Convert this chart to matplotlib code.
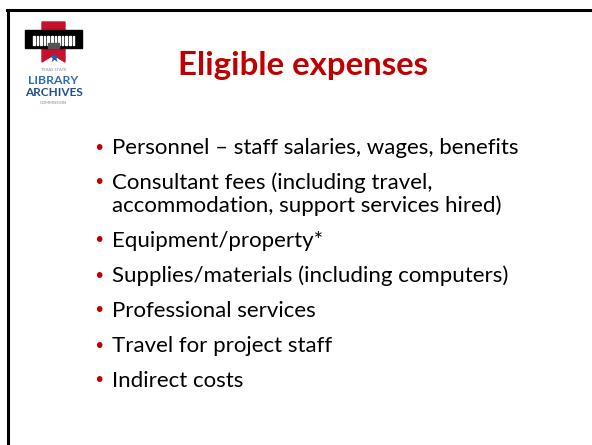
import matplotlib
matplotlib.use("Agg")
import matplotlib.pyplot as plt
from matplotlib.patches import Rectangle, Polygon
from matplotlib.lines import Line2D

title = "Eligible expenses"
bullets = [
    ["Personnel \u2013 staff salaries, wages, benefits"],
    ["Consultant fees (including travel,", "accommodation, support services hired)"],
    ["Equipment/property*"],
    ["Supplies/materials (including computers)"],
    ["Professional services"],
    ["Travel for project staff"],
    ["Indirect costs"],
]

W, H = 592, 445
fig = plt.figure(figsize=(W / 100, H / 100), dpi=100)
ax = fig.add_axes([0, 0, 1, 1])
ax.set_xlim(0, W)
ax.set_ylim(H, 0)
ax.axis("off")

FONT = ["Lato", "DejaVu Sans"]
RED = "#C00000"

# slide frame (top and left)
ax.add_line(Line2D([7, W], [10, 10], color="black", lw=2.2))
ax.add_line(Line2D([8, 8], [10, H], color="black", lw=2.2))

# logo
ax.add_patch(Polygon([[42, 22], [65, 22], [65, 62], [53.5, 55], [42, 62]],
                     closed=True, color="#C8102E", zorder=2))
ax.add_patch(Rectangle((25, 30), 57, 18, color="black", zorder=3))
for i in range(12):
    ax.add_patch(Rectangle((33 + i * 3.6, 36), 1.6, 9, color="white", zorder=4))
ax.add_patch(Rectangle((48, 43), 11, 5, color="#555555", zorder=4))
ax.text(53.5, 58, "\u2605", color="#1F5AA6", fontsize=9, ha="center", va="center",
        family="DejaVu Sans", zorder=5)
ax.text(53.5, 70, "TEXAS STATE", color="#888888", fontsize=3, ha="center", va="center", family=FONT)
ax.text(53.5, 80, "LIBRARY", color="#2E6DB4", fontsize=8.8, fontweight="bold",
        ha="center", va="center", family=FONT)
ax.text(53.5, 92, "ARCHIVES", color="#1F4E8C", fontsize=8.5, fontweight="bold",
        ha="center", va="center", family=FONT)
ax.text(53.5, 103, "COMMISSION", color="#888888", fontsize=3, ha="center", va="center", family=FONT)

# title
ax.text(302.5, 75, title, color=RED, fontsize=23.8, fontweight="bold",
        ha="center", va="baseline", family=FONT)

# bullets
y = 148
for item in bullets:
    ax.text(99, y, "\u2022", color=RED, fontsize=14, ha="center", va="center", family="DejaVu Sans")
    for j, line in enumerate(item):
        ax.text(112, y + 6, line, color="black", fontsize=16, ha="left", va="baseline", family=FONT)
        if j < len(item) - 1:
            y += 23
    y += 35

fig.savefig("out.png", dpi=100)
